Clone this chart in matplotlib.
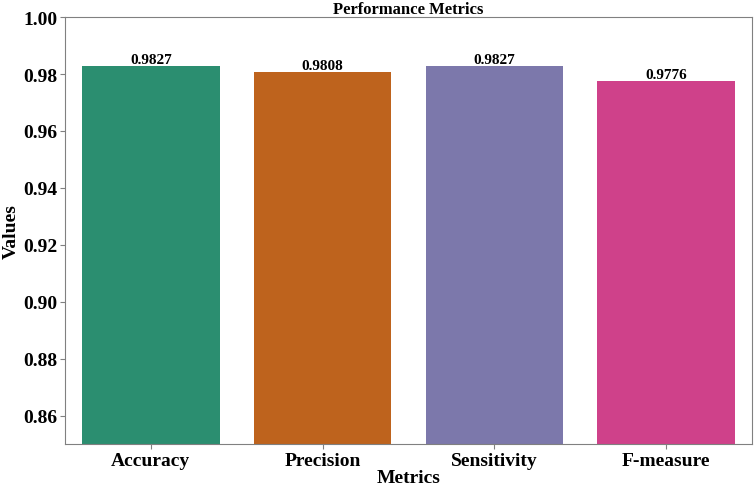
import matplotlib

matplotlib.use("Agg")
import matplotlib.pyplot as plt
import seaborn as sns

metrics = ["Accuracy", "Precision", "Sensitivity", "F-measure"]
values = [0.9827, 0.9808, 0.9827, 0.9776]

plt.rcParams["font.family"] = ["Liberation Serif", "DejaVu Serif"]
plt.rcParams["font.weight"] = "bold"

fig, ax = plt.subplots(figsize=(7.55, 4.89), dpi=100)
fig.subplots_adjust(left=0.086, right=0.996, bottom=0.09, top=0.963)

sns.barplot(x=metrics, y=values, hue=metrics, palette="Dark2", legend=False, ax=ax)

for i, v in enumerate(values):
    ax.text(i, v, f"{v:.4f}", ha="center", va="bottom", fontsize=11, fontweight="bold")

ax.set_ylim(0.85, 1.0)
ax.set_xlim(-0.5, 3.5)
ax.set_title("Performance Metrics", fontsize=12, fontweight="bold", pad=2)
ax.set_xlabel("Metrics", fontsize=14, fontweight="bold", labelpad=0)
ax.set_ylabel("Values", fontsize=14, fontweight="bold", labelpad=2)
ax.tick_params(axis="both", labelsize=14, colors="black", pad=2)
ax.tick_params(axis="both", color="gray")
for lab in ax.get_xticklabels() + ax.get_yticklabels():
    lab.set_fontweight("bold")
for spine in ax.spines.values():
    spine.set_color("gray")

fig.savefig("out.png", dpi=100)
